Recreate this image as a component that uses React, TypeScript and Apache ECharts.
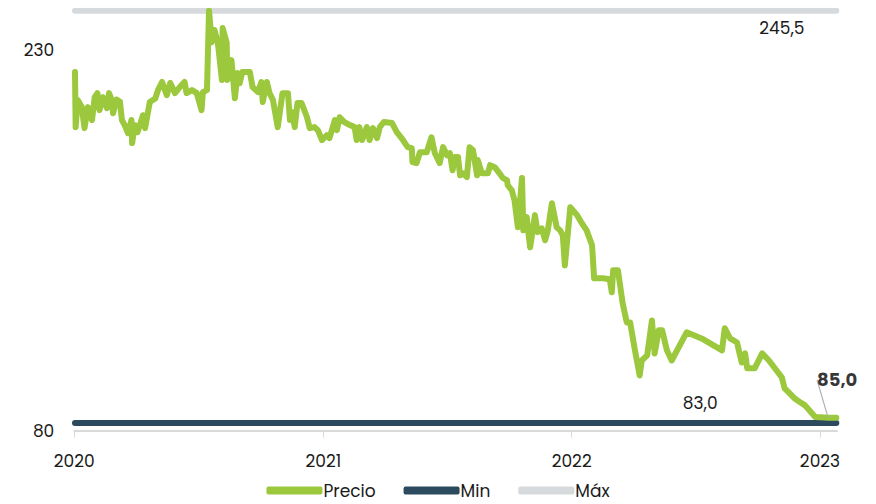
import React, { useEffect, useRef } from "react";
import * as echarts from "echarts";

const dates: string[] = [
  "2020-01-02","2020-01-03","2020-01-06","2020-01-12","2020-01-16","2020-01-21","2020-01-27","2020-01-31",
  "2020-02-04","2020-02-07","2020-02-12","2020-02-18","2020-02-21","2020-02-25","2020-02-27","2020-03-03",
  "2020-03-08","2020-03-11","2020-03-15","2020-03-20","2020-03-25","2020-03-26","2020-03-30","2020-04-03",
  "2020-04-11","2020-04-14","2020-04-21","2020-04-29","2020-05-03","2020-05-09","2020-05-16","2020-05-21",
  "2020-05-28","2020-06-04","2020-06-11","2020-06-14","2020-06-22","2020-06-29","2020-07-06","2020-07-08",
  "2020-07-14","2020-07-17","2020-07-21","2020-07-25","2020-07-30","2020-08-05","2020-08-06","2020-08-12",
  "2020-08-13","2020-08-19","2020-08-24","2020-08-28","2020-08-31","2020-09-04","2020-09-15","2020-09-19",
  "2020-09-27","2020-10-02","2020-10-04","2020-10-10","2020-10-14","2020-10-19","2020-10-26","2020-11-02",
  "2020-11-10","2020-11-13","2020-11-16","2020-11-20","2020-11-24","2020-11-30","2020-12-08","2020-12-12",
  "2020-12-19","2020-12-24","2020-12-30","2021-01-06","2021-01-10","2021-01-18","2021-01-21","2021-01-25",
  "2021-02-01","2021-02-09","2021-02-16","2021-02-19","2021-02-23","2021-02-27","2021-03-06","2021-03-10",
  "2021-03-15","2021-03-21","2021-03-25","2021-03-31","2021-04-12","2021-04-19","2021-04-26","2021-05-05",
  "2021-05-11","2021-05-12","2021-05-18","2021-05-23","2021-06-02","2021-06-09","2021-06-14","2021-06-21",
  "2021-06-26","2021-07-02","2021-07-06","2021-07-10","2021-07-13","2021-07-18","2021-07-21","2021-07-25",
  "2021-07-31","2021-08-04","2021-08-09","2021-08-15","2021-08-16","2021-08-22","2021-08-31","2021-09-03",
  "2021-09-10","2021-09-17","2021-09-22","2021-09-28","2021-09-29","2021-10-05","2021-10-09","2021-10-14",
  "2021-10-20","2021-10-22","2021-10-27","2021-10-29","2021-11-01","2021-11-08","2021-11-12","2021-11-18",
  "2021-11-23","2021-11-27","2021-12-03","2021-12-10","2021-12-15","2021-12-19","2021-12-22","2021-12-30",
  "2022-01-09","2022-01-16","2022-01-23","2022-01-31","2022-02-03","2022-02-16","2022-02-26","2022-03-01",
  "2022-03-03","2022-03-10","2022-03-17","2022-03-23","2022-03-28","2022-04-04","2022-04-11","2022-04-14",
  "2022-04-22","2022-04-29","2022-05-03","2022-05-09","2022-05-14","2022-05-21","2022-05-28","2022-06-19",
  "2022-07-11","2022-08-10","2022-08-14","2022-08-22","2022-09-01","2022-09-08","2022-09-13","2022-09-16",
  "2022-09-27","2022-10-08","2022-10-18","2022-11-06","2022-11-10","2022-11-16","2022-11-25","2022-12-03",
  "2022-12-10","2022-12-25","2023-01-08","2023-01-13","2023-01-25"
];

const precio: number[] = [
  221.3,199.6,210.3,207.5,199.2,207.5,202.4,211.4,
  213.0,206.3,211.4,207.1,213.0,210.3,205.1,210.5,
  209.7,202.4,200.4,197.2,202.4,193.3,200.4,197.6,
  204.3,199.2,209.5,210.9,214.2,217.4,212.2,217.0,
  213.0,215.4,217.4,213.0,214.2,213.0,206.3,213.4,
  214.2,245.5,233.1,237.9,232.8,218.2,238.7,232.8,
  218.2,226.0,211.0,220.9,216.9,221.3,221.3,215.4,
  213.4,217.4,209.5,217.4,213.0,210.3,199.6,213.0,
  213.0,202.4,205.5,199.6,209.1,209.1,203.5,199.2,
  199.6,198.4,194.5,196.4,195.3,202.4,198.4,203.5,
  201.6,200.4,199.6,194.5,199.6,194.5,199.6,194.5,
  199.2,195.3,199.6,201.6,201.2,197.6,195.3,191.7,
  191.3,185.8,185.4,189.7,189.7,195.6,189.3,185.4,
  191.7,188.5,189.3,182.6,187.8,187.8,180.6,181.4,
  179.9,191.7,190.5,180.6,186.6,181.4,181.4,184.6,
  183.8,181.4,179.5,178.7,176.7,174.7,170.8,160.1,
  179.5,158.9,164.1,158.9,152.2,164.9,158.2,159.7,
  155.0,158.9,169.6,160.1,158.9,157.0,145.1,168.0,
  164.9,161.7,158.9,153.0,140.0,140.0,139.6,134.5,
  143.2,143.2,130.1,122.6,122.6,111.6,101.7,107.6,
  109.6,123.4,110.4,119.5,119.5,111.6,107.6,118.7,
  116.3,111.6,120.3,116.3,114.7,106.8,110.4,104.5,
  104.5,110.4,107.6,100.9,96.6,95.0,92.6,91.1,
  89.9,85.3,85.1,85.0,85.0
];

const minValue = 83.0;
const maxValue = 245.5;
const yTickLabels = [80, 230];
const legendNames = ["Precio", "Min", "Máx"];
const maxLabel = { date: "2022-11-06", value: 245.5, text: "245,5" };
const minLabel = { date: "2022-07-09", value: 83.0, text: "83,0" };
const lastLabel = { date: "2023-01-13", value: 85.0, text: "85,0" };

const FONT = "Poppins, 'Noto Sans', sans-serif";
const TEXT = "#1a1a1a";

export default function App() {
  const ref = useRef<HTMLDivElement>(null);
  useEffect(() => {
    document.body.style.margin = "0";
    const chart = echarts.init(ref.current!, undefined, { renderer: "svg" });
    const first = dates[0];
    const last = dates[dates.length - 1];
    const DAY = 86400000;
    const plainLabel = (text: string, position: string, distance: number) => ({
      show: true,
      position,
      distance,
      formatter: text,
      color: TEXT,
      opacity: 1,
      fontSize: 17,
      fontFamily: FONT,
    });
    chart.setOption({
      animation: false,
      textStyle: { fontFamily: FONT },
      grid: { left: 74.3, right: 39, top: 10.7, bottom: 73.5 },
      legend: {
        data: legendNames,
        bottom: 0,
        left: "center",
        icon: "roundRect",
        itemWidth: 56,
        itemHeight: 8,
        itemGap: 28,
        textStyle: { fontSize: 17, color: TEXT, fontFamily: FONT, padding: [0, 0, 0, -4] },
      },
      xAxis: {
        type: "time",
        min: "2020-01-01",
        max: "2023-01-26",
        minInterval: 365 * DAY,
        maxInterval: 366 * DAY,
        axisLine: { lineStyle: { color: "#d9d9d9", width: 2 } },
        axisTick: { show: true, length: 7, lineStyle: { color: "#d9d9d9", width: 1 } },
        axisLabel: {
          formatter: "{yyyy}",
          fontSize: 17,
          color: TEXT,
          margin: 22,
          fontFamily: FONT,
        },
        splitLine: { show: false },
      },
      yAxis: {
        type: "value",
        min: 80,
        max: maxValue,
        interval: 150,
        axisLine: { show: false },
        axisTick: { show: false },
        splitLine: { show: false },
        axisLabel: {
          fontSize: 17,
          color: TEXT,
          margin: 20,
          fontFamily: FONT,
          formatter: (v: number) => (yTickLabels.includes(v) ? String(v) : ""),
        },
      },
      series: [
        {
          name: "Máx",
          type: "line",
          symbol: "none",
          color: "#d7dadd",
          lineStyle: { width: 6, color: "#d7dadd", cap: "round" },
          data: [[first, maxValue], [last, maxValue]],
          z: 1,
        },
        {
          name: "Min",
          type: "line",
          symbol: "none",
          color: "#2c4a5e",
          lineStyle: { width: 6, color: "#2c4a5e", cap: "round" },
          data: [[first, minValue], [last, minValue]],
          z: 2,
        },
        {
          name: "Precio",
          type: "line",
          symbol: "none",
          color: "#9bc83c",
          lineStyle: { width: 6, color: "#9bc83c", cap: "round", join: "round" },
          data: dates.map((d, i) => [d, precio[i]]),
          z: 3,
        },
        {
          name: "labels",
          type: "scatter",
          symbolSize: 0,
          itemStyle: { color: TEXT },
          silent: true,
          z: 4,
          data: [
            { value: [maxLabel.date, maxLabel.value], label: plainLabel(maxLabel.text, "bottom", 9) },
            { value: [minLabel.date, minLabel.value], label: plainLabel(minLabel.text, "top", 11) },
          ],
        },
        {
          name: "lastLabel",
          type: "scatter",
          symbolSize: 0,
          itemStyle: { color: "#000" },
          silent: true,
          z: 5,
          data: [
            {
              value: [lastLabel.date, lastLabel.value],
              label: {
                show: true,
                position: "top",
                distance: 5,
                formatter: lastLabel.text,
                fontSize: 18,
                fontWeight: "bold",
                color: "#000",
                fontFamily: FONT,
              },
            },
          ],
          labelLayout: { dx: 9, dy: -24 },
          labelLine: { show: true, length2: 0, lineStyle: { color: "#b0b0b0", width: 1.2 } },
        },
      ],
    });
    return () => chart.dispose();
  }, []);
  return <div ref={ref} style={{ width: 876, height: 504 }} />;
}
